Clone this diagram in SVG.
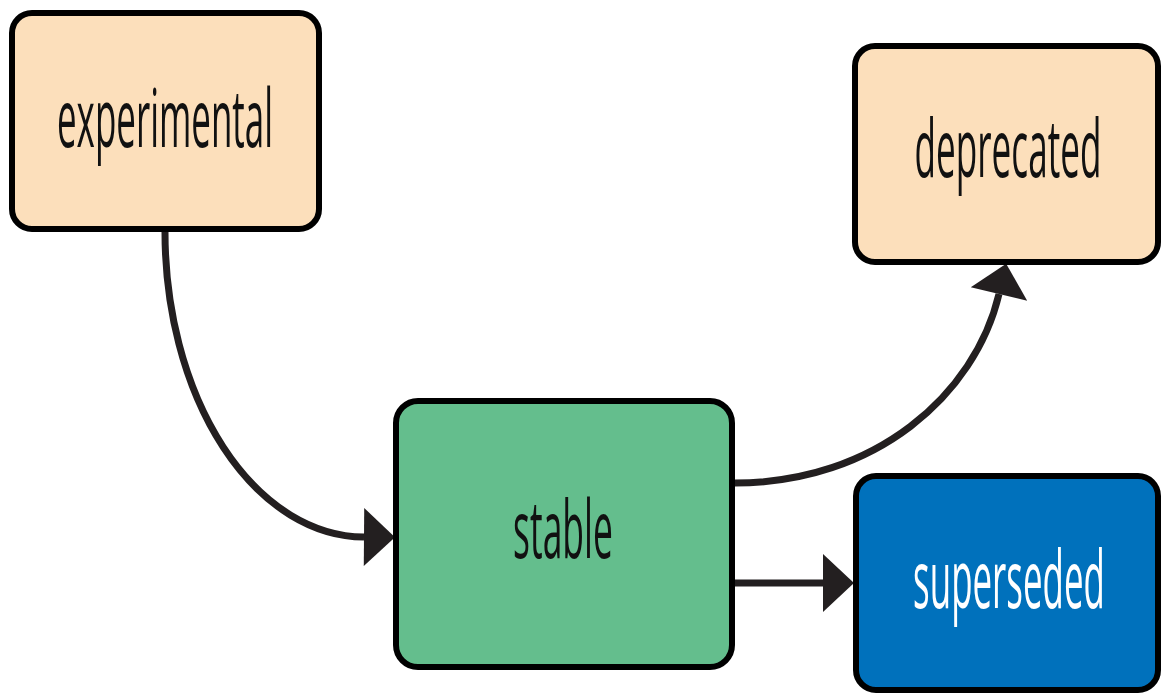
<svg xmlns="http://www.w3.org/2000/svg" width="1161" height="693" viewBox="0 0 1161 693">
  <style>
    .box { stroke: #000; stroke-width: 6; }
    .peach { fill: #fcdfbb; }
    .green { fill: #64be8d; }
    .blue { fill: #0071bc; }
    .lbl { font-family: "Open Sans", "Liberation Sans", sans-serif; font-size: 80px; text-anchor: middle; fill: #111; }
    .lbl.white { fill: #fff; }
    .edge { fill: none; stroke: #231f20; stroke-width: 7; }
  </style>
  <defs>
    <marker id="arrow" markerUnits="userSpaceOnUse" markerWidth="32" markerHeight="60" refX="0" refY="29" orient="auto" overflow="visible">
      <path d="M0,0 L31,29 L0,58 Z" fill="#231f20"/>
    </marker>
  </defs>
  <rect width="1161" height="693" fill="#fff"/>
  <g id="connectors">
    <path class="edge" d="M165,232 A200,305 0 0 0 364,537" marker-end="url(#arrow)"/>
    <path class="edge" d="M735,483 C875,483 975,395 999,294" marker-end="url(#arrow)"/>
    <path class="edge" d="M735,583 L823,583" marker-end="url(#arrow)"/>
  </g>
  <g id="experimental">
    <rect class="box peach" x="12" y="13" width="307" height="216" rx="20"/>
    <text class="lbl" transform="translate(165,147) scale(0.44,1)" textLength="491" lengthAdjust="spacingAndGlyphs">experimental</text>
  </g>
  <g id="deprecated">
    <rect class="box peach" x="855" y="46" width="303" height="216" rx="20"/>
    <text class="lbl" transform="translate(1008,177) scale(0.44,1)" textLength="425" lengthAdjust="spacingAndGlyphs">deprecated</text>
  </g>
  <g id="stable">
    <rect class="box green" x="396" y="401" width="336" height="266" rx="22"/>
    <text class="lbl" transform="translate(563,558) scale(0.44,1)" textLength="227" lengthAdjust="spacingAndGlyphs">stable</text>
  </g>
  <g id="superseded">
    <rect class="box blue" x="856" y="476" width="302" height="214" rx="20"/>
    <text class="lbl white" transform="translate(1009,608) scale(0.44,1)" textLength="436" lengthAdjust="spacingAndGlyphs">superseded</text>
  </g>
</svg>
